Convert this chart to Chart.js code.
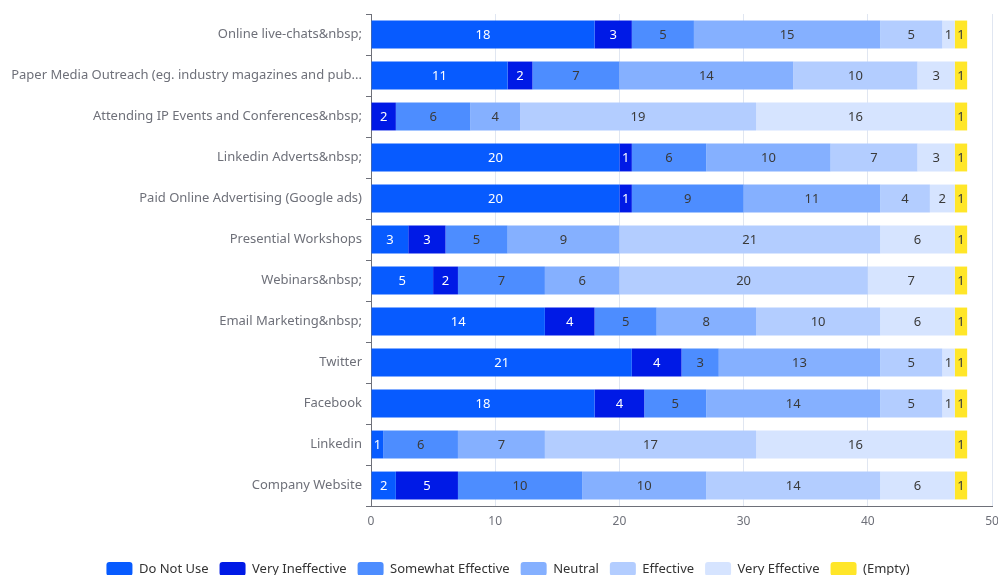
<!DOCTYPE html>
<html>
<head>
<meta charset="utf-8">
<script src="https://cdn.jsdelivr.net/npm/chart.js@4/dist/chart.umd.min.js"></script>
<style>
  html, body { margin: 0; padding: 0; background: #fff; overflow: hidden; }
  #wrap { position: relative; width: 998px; height: 586px; }
</style>
</head>
<body>
<div id="wrap"><canvas id="canvas"></canvas></div>
<script>
// channels, top to bottom
const categories = [
    'Online live-chats&nbsp;',
    'Paper Media Outreach (eg. industry magazines and pub...',
    'Attending IP Events and Conferences&nbsp;',
    'Linkedin Adverts&nbsp;',
    'Paid Online Advertising (Google ads)',
    'Presential Workshops',
    'Webinars&nbsp;',
    'Email Marketing&nbsp;',
    'Twitter',
    'Facebook',
    'Linkedin',
    'Company Website'
];

const seriesNames = ['Do Not Use', 'Very Ineffective', 'Somewhat Effective', 'Neutral', 'Effective', 'Very Effective', '(Empty)'];
const seriesColors = ['#075bff', '#001ae6', '#4d8dff', '#85b0ff', '#b3cdff', '#d6e4ff', '#ffe629'];

const doNotUse          = [18, 11, 0, 20, 20, 3, 5, 14, 21, 18, 1, 2];
const veryIneffective   = [3, 2, 2, 1, 1, 3, 2, 4, 4, 4, 0, 5];
const somewhatEffective = [5, 7, 6, 6, 9, 5, 7, 5, 3, 5, 6, 10];
const neutral           = [15, 14, 4, 10, 11, 9, 6, 8, 13, 14, 7, 10];
const effective         = [5, 10, 19, 7, 4, 21, 20, 10, 5, 5, 17, 14];
const veryEffective     = [1, 3, 16, 3, 2, 6, 7, 6, 1, 1, 16, 6];
const empty             = [1, 1, 1, 1, 1, 1, 1, 1, 1, 1, 1, 1];

const xTicks = [0, 10, 20, 30, 40, 50];

const allSeries = [doNotUse, veryIneffective, somewhatEffective, neutral, effective, veryEffective, empty];
const FONT = '"Noto Sans", sans-serif';

// value labels in the middle of each segment
const segmentLabels = {
    id: 'segmentLabels',
    afterDatasetsDraw(chart) {
        const ctx = chart.ctx;
        ctx.save();
        ctx.font = '13px ' + FONT;
        ctx.textAlign = 'center';
        ctx.textBaseline = 'middle';
        chart.data.datasets.forEach((ds, i) => {
            const meta = chart.getDatasetMeta(i);
            if (meta.hidden) return;
            ctx.fillStyle = i < 2 ? '#ffffff' : '#3a3a3a';
            meta.data.forEach((bar, j) => {
                const v = ds.data[j];
                if (!v) return;
                const p = bar.getCenterPoint();
                ctx.fillText(String(v), p.x, p.y + 1);
            });
        });
        ctx.restore();
    }
};

// nudge the legend row a little to the right
const legendShift = {
    id: 'legendShift',
    afterLayout(chart) {
        const lg = chart.legend;
        if (!lg) return;
        lg.left += 12;
        lg.right += 12;
    }
};

const datasets = seriesNames.map((name, i) => ({
    label: name,
    data: allSeries[i],
    backgroundColor: seriesColors[i],
    borderWidth: 0,
    barPercentage: 0.68,
    categoryPercentage: 1
}));

const ctx = document.getElementById('canvas').getContext('2d');
window.myChart = new Chart(ctx, {
    type: 'bar',
    data: { labels: categories, datasets: datasets },
    plugins: [segmentLabels, legendShift],
    options: {
        indexAxis: 'y',
        responsive: true,
        maintainAspectRatio: false,
        animation: false,
        layout: { padding: { top: 14, left: 0, right: 6, bottom: 0 } },
        plugins: {
            tooltip: { enabled: false },
            legend: {
                position: 'bottom',
                labels: {
                    boxWidth: 26,
                    boxHeight: 14,
                    padding: 11,
                    color: '#333',
                    useBorderRadius: true,
                    borderRadius: 3,
                    font: { family: FONT, size: 13 }
                }
            }
        },
        scales: {
            x: {
                stacked: true,
                min: 0,
                max: 50,
                afterBuildTicks: (scale) => { scale.ticks = xTicks.map(v => ({ value: v })); },
                afterFit: (scale) => {
                    scale.height = 45;
                    // let the last tick label run off the edge
                    scale.paddingRight = 0;
                },
                grid: { color: '#e0e6f1', drawTicks: false },
                border: { color: '#6e7079', width: 1 },
                ticks: { color: '#6e7079', padding: 8, font: { family: FONT, size: 12 } }
            },
            y: {
                stacked: true,
                afterFit: (scale) => { scale.width = 371; },
                grid: { drawOnChartArea: false, offset: true, color: '#6e7079', tickLength: 5 },
                border: { color: '#6e7079', width: 1 },
                ticks: { color: '#6e7079', padding: 4, font: { family: FONT, size: 13 } }
            }
        }
    }
});
</script>
</body>
</html>
